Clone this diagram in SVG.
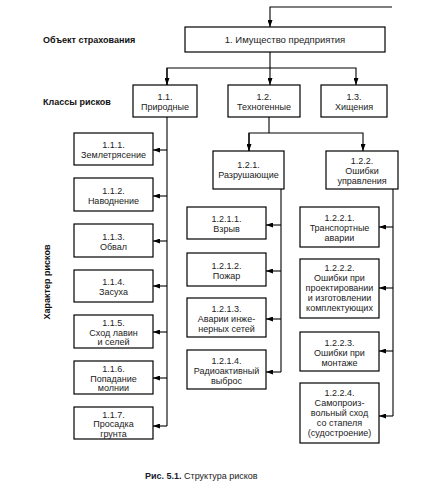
<svg xmlns="http://www.w3.org/2000/svg" width="423" height="500" viewBox="0 0 423 500">
<style>
.b{fill:#fff;stroke:#000;stroke-width:1.2}
.t{font-family:"Liberation Sans",Arial,sans-serif;font-size:9px;fill:#222;text-anchor:middle}
.l{font-family:"Liberation Sans",Arial,sans-serif;font-size:9px;font-weight:bold;fill:#111}
.c{fill:none;stroke:#000;stroke-width:1.1}
</style>
<defs>
<marker id="a" viewBox="0 0 7 5" refX="7" refY="2.5" markerWidth="7" markerHeight="5" markerUnits="userSpaceOnUse" orient="auto">
<path d="M0,0L7,2.5L0,5z" fill="#000"/>
</marker>
</defs>
<rect width="423" height="500" fill="#fff"/>
<g id="labels">
<text class="l" x="43" y="43">Объект страхования</text>
<text class="l" x="43" y="105">Классы рисков</text>
<text class="l" transform="translate(50,282) rotate(-90)" text-anchor="middle">Характер рисков</text>
<text x="145" y="479" style="font-family:'Liberation Sans',Arial,sans-serif;font-size:9px"><tspan font-weight="bold" fill="#1a1a33">Рис. 5.1.</tspan><tspan fill="#222"> Структура рисков</tspan></text>
</g>
<g id="connectors">
<path class="c" d="M392,7H270V27" marker-end="url(#a)"/>
<path class="c" d="M270,52V68"/>
<path class="c" d="M167,85V68H356V85" marker-end="url(#a)"/>
<path class="c" d="M167,68V85" marker-end="url(#a)"/>
<path class="c" d="M270,68V85" marker-end="url(#a)"/>
<path class="c" d="M167,117V426"/>
<path class="c" d="M167,150H153" marker-end="url(#a)"/>
<path class="c" d="M167,196H153" marker-end="url(#a)"/>
<path class="c" d="M167,241H153" marker-end="url(#a)"/>
<path class="c" d="M167,286H153" marker-end="url(#a)"/>
<path class="c" d="M167,332H153" marker-end="url(#a)"/>
<path class="c" d="M167,378H153" marker-end="url(#a)"/>
<path class="c" d="M167,426H153" marker-end="url(#a)"/>
<path class="c" d="M269,117V133"/>
<path class="c" d="M249,151V133H363V151" marker-end="url(#a)"/>
<path class="c" d="M249,133V151" marker-end="url(#a)"/>
<path class="c" d="M281,189V372"/>
<path class="c" d="M281,225H266" marker-end="url(#a)"/>
<path class="c" d="M281,271H266" marker-end="url(#a)"/>
<path class="c" d="M281,319H266" marker-end="url(#a)"/>
<path class="c" d="M281,372H266" marker-end="url(#a)"/>
<path class="c" d="M393,189V416"/>
<path class="c" d="M393,227H379" marker-end="url(#a)"/>
<path class="c" d="M393,288H379" marker-end="url(#a)"/>
<path class="c" d="M393,351H379" marker-end="url(#a)"/>
<path class="c" d="M393,416H379" marker-end="url(#a)"/>
</g>
<g id="n1"><rect class="b" x="185" y="27" width="200" height="25"/><text class="t" x="285" y="43" style="font-size:9.5px">1. Имущество предприятия</text></g>
<g id="n1-1"><rect class="b" x="133" y="85" width="64" height="32"/><text class="t" x="165" y="100">1.1.</text><text class="t" x="165" y="110">Природные</text></g>
<g id="n1-2"><rect class="b" x="228" y="85" width="72" height="32"/><text class="t" x="264" y="100">1.2.</text><text class="t" x="264" y="110">Техногенные</text></g>
<g id="n1-3"><rect class="b" x="321" y="85" width="66" height="32"/><text class="t" x="354" y="100">1.3.</text><text class="t" x="354" y="110">Хищения</text></g>
<g id="n1-1-1"><rect class="b" x="74" y="133" width="79" height="32"/><text class="t" x="113.5" y="148">1.1.1.</text><text class="t" x="113.5" y="158">Землетрясение</text></g>
<g id="n1-1-2"><rect class="b" x="74" y="178" width="79" height="33"/><text class="t" x="113.5" y="194">1.1.2.</text><text class="t" x="113.5" y="204">Наводнение</text></g>
<g id="n1-1-3"><rect class="b" x="74" y="224" width="79" height="33"/><text class="t" x="113.5" y="240">1.1.3.</text><text class="t" x="113.5" y="250">Обвал</text></g>
<g id="n1-1-4"><rect class="b" x="74" y="270" width="79" height="32"/><text class="t" x="113.5" y="285">1.1.4.</text><text class="t" x="113.5" y="295">Засуха</text></g>
<g id="n1-1-5"><rect class="b" x="74" y="315" width="79" height="33"/><text class="t" x="113.5" y="326">1.1.5.</text><text class="t" x="113.5" y="335.5">Сход лавин</text><text class="t" x="113.5" y="345">и селей</text></g>
<g id="n1-1-6"><rect class="b" x="74" y="361" width="79" height="33"/><text class="t" x="113.5" y="372">1.1.6.</text><text class="t" x="113.5" y="381.5">Попадание</text><text class="t" x="113.5" y="391">молнии</text></g>
<g id="n1-1-7"><rect class="b" x="74" y="407" width="79" height="32"/><text class="t" x="113.5" y="417.5">1.1.7.</text><text class="t" x="113.5" y="427">Просадка</text><text class="t" x="113.5" y="436.5">грунта</text></g>
<g id="n1-2-1"><rect class="b" x="213" y="151" width="71" height="38"/><text class="t" x="248.5" y="168">1.2.1.</text><text class="t" x="248.5" y="178">Разрушающие</text></g>
<g id="n1-2-2"><rect class="b" x="326" y="151" width="72" height="38"/><text class="t" x="362" y="164">1.2.2.</text><text class="t" x="362" y="174">Ошибки</text><text class="t" x="362" y="184">управления</text></g>
<g id="n1-2-1-1"><rect class="b" x="187" y="207" width="79" height="32"/><text class="t" x="226.5" y="222">1.2.1.1.</text><text class="t" x="226.5" y="232">Взрыв</text></g>
<g id="n1-2-1-2"><rect class="b" x="187" y="253" width="79" height="33"/><text class="t" x="226.5" y="269">1.2.1.2.</text><text class="t" x="226.5" y="279">Пожар</text></g>
<g id="n1-2-1-3"><rect class="b" x="187" y="298" width="79" height="39"/><text class="t" x="226.5" y="312">1.2.1.3.</text><text class="t" x="226.5" y="322">Аварии инже-</text><text class="t" x="226.5" y="332">нерных сетей</text></g>
<g id="n1-2-1-4"><rect class="b" x="187" y="350" width="79" height="39"/><text class="t" x="226.5" y="364">1.2.1.4.</text><text class="t" x="226.5" y="374">Радиоактивный</text><text class="t" x="226.5" y="384">выброс</text></g>
<g id="n1-2-2-1"><rect class="b" x="300" y="207" width="79" height="40"/><text class="t" x="339.5" y="221">1.2.2.1.</text><text class="t" x="339.5" y="231">Транспортные</text><text class="t" x="339.5" y="241">аварии</text></g>
<g id="n1-2-2-2"><rect class="b" x="300" y="259" width="79" height="59"/><text class="t" x="339.5" y="271">1.2.2.2.</text><text class="t" x="339.5" y="281">Ошибки при</text><text class="t" x="339.5" y="291">проектировании</text><text class="t" x="339.5" y="301">и изготовлении</text><text class="t" x="339.5" y="311">комплектующих</text></g>
<g id="n1-2-2-3"><rect class="b" x="300" y="332" width="79" height="39"/><text class="t" x="339.5" y="346">1.2.2.3.</text><text class="t" x="339.5" y="356">Ошибки при</text><text class="t" x="339.5" y="366">монтаже</text></g>
<g id="n1-2-2-4"><rect class="b" x="300" y="383" width="79" height="60"/><text class="t" x="339.5" y="396">1.2.2.4.</text><text class="t" x="339.5" y="406">Самопроиз-</text><text class="t" x="339.5" y="416">вольный сход</text><text class="t" x="339.5" y="426">со стапеля</text><text class="t" x="339.5" y="436">(судостроение)</text></g>
</svg>
